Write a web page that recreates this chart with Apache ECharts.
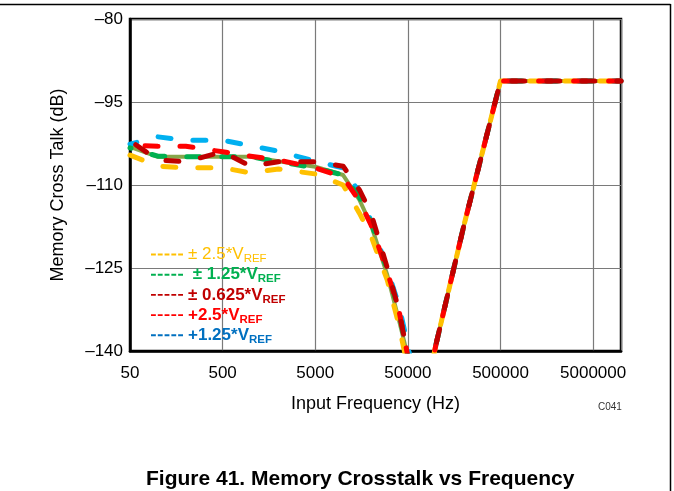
<!DOCTYPE html>
<html>
<head>
<meta charset="utf-8">
<script src="https://cdn.jsdelivr.net/npm/echarts@6/dist/echarts.min.js"></script>
<style>
	html,body{margin:0;padding:0;background:#fff;}
	#chart{width:674px;height:491px;}
</style>
</head>
<body>
<div id="chart"></div>
<script>
//----------------------------
//	data
//----------------------------
var freqHz	= [50, 100, 200, 500, 1000, 2000, 5000, 10000, 15000, 20000, 30000, 40000, 50000, 70000, 100000, 200000, 500000, 1000000, 2000000, 5000000, 10000000];

var pm2p5	= [-104.6, -106.6, -106.9, -106.9, -107.8, -107.1, -108.0, -110.0, -115.1, -119.2, -127.2, -135.3, -143.0, -152, -139, -117.5, -91.2, -91.2, -91.2, -91.2, -91.2];
var pm1p25	= [-103.3, -104.8, -104.9, -104.9, -104.9, -105.8, -106.9, -108.2, -112.2, -116.7, -125.4, -132.9, -141.0, -152, -139, -117.5, -91.2, -91.2, -91.2, -91.2, -91.2];
var pm0p625	= [-102.0, -105.5, -105.8, -104.0, -106.6, -105.8, -105.8, -106.6, -110.9, -115.1, -125.0, -132.6, -141.0, -152, -139, -117.5, -91.2, -91.2, -91.2, -91.2, -91.2];
var p2p5	= [-102.8, -103.0, -103.0, -104.0, -104.8, -105.5, -106.9, -108.6, -112.9, -117.2, -125.7, -132.6, -141.0, -152, -139, -117.5, -91.2, -91.2, -91.2, -91.2, -91.2];
var p1p25	= [-102.6, -101.3, -101.9, -101.9, -102.9, -103.9, -105.7, -106.9, -111.4, -116.5, -125.3, -131.7, -139.0, -152, -139, -117.5, -91.2, -91.2, -91.2, -91.2, -91.2];
var baseLine= [-103.1, -104.9, -104.9, -104.9, -104.9, -105.7, -106.7, -108.2, -112.7, -117.2, -126.3, -134.4, -141.0, -152, -139, -117.5, -91.2, -91.2, -91.2, -91.2, -91.2];

var xTicks	= [50, 500, 5000, 50000, 500000, 5000000];
var yTicks	= [-140, -125, -110, -95, -80];

var F0 = 50;	// x axis starts here, one unit = one decade

function toPts(vals){
	var v = [];
	for(var i=0;i<freqHz.length;i++){
		v.push([Math.log10(freqHz[i]/F0), vals[i]]);
	}
	return v;
}

var FONT = 'Liberation Sans, Arial, sans-serif';

var names	= ['± 2.5*VREF', '± 1.25*VREF', '± 0.625*VREF', '+2.5*VREF', '+1.25*VREF'];
var labels	= {
	'± 2.5*VREF'	: '{y|± 2.5*V}{ys|REF}',
	'± 1.25*VREF'	: '{g| ± 1.25*V}{gs|REF}',
	'± 0.625*VREF'	: '{d|± 0.625*V}{ds|REF}',
	'+2.5*VREF'	: '{r|+2.5*V}{rs|REF}',
	'+1.25*VREF'	: '{b|+1.25*V}{bs|REF}'
};

function sub(c,bold){
	return {color:c, fontSize:11.5, fontWeight:bold?'bold':'normal', fontFamily:FONT, padding:[9,0,0,0]};
}
function main(c,bold){
	return {color:c, fontSize:17, fontWeight:bold?'bold':'normal', fontFamily:FONT};
}

var dashIcon = 'path://M0,0h5v2h-5z M7,0h5v2h-5z M14,0h5v2h-5z M21,0h5v2h-5z M28,0h5v2h-5z';

function mkLine(name, vals, color, offset, dashed){
	return {
		name: name,
		type: 'line',
		data: toPts(vals),
		color: color,
		symbol: 'none',
		smooth: false,
		lineStyle: {
			width: dashed ? 5 : 4,
			color: color,
			type: dashed ? [13, 22] : 'solid',
			dashOffset: offset,
			cap: 'round',
			join: 'round'
		}
	};
}

var myChart = echarts.init(document.getElementById('chart'));

var option = {
	animation: false,
	backgroundColor: '#fff',
	grid: {
		left: 130, right: 53, top: 19, bottom: 140,
		show: true, borderColor: '#000', borderWidth: 2.5
	},
	xAxis: {
		type: 'value',
		min: 0,
		max: Math.log10(1e7/F0),
		interval: 1,
		name: 'Input Frequency (Hz)',
		nameLocation: 'middle',
		nameGap: 44,
		nameTextStyle: {fontSize: 18, color: '#000', fontFamily: FONT},
		axisLine: {lineStyle: {color: '#000', width: 2.5}},
		axisTick: {show: false},
		splitLine: {lineStyle: {color: '#7a7a7a', width: 1.2}},
		axisLabel: {
			fontSize: 17, color: '#000', fontFamily: FONT, margin: 14,
			showMaxLabel: false,
			formatter: function(v){
				var f = Math.round(F0*Math.pow(10,v));
				return xTicks.indexOf(f)>=0 ? String(f) : '';
			}
		}
	},
	yAxis: {
		type: 'value',
		min: yTicks[0],
		max: yTicks[yTicks.length-1],
		interval: 15,
		name: 'Memory Cross Talk (dB)',
		nameLocation: 'middle',
		nameGap: 63,
		nameTextStyle: {fontSize: 18, color: '#000', fontFamily: FONT},
		axisLine: {show: true, lineStyle: {color: '#000', width: 2.5}},
		axisTick: {show: false},
		splitLine: {lineStyle: {color: '#7a7a7a', width: 1.2}},
		axisLabel: {
			fontSize: 17, color: '#000', fontFamily: FONT, margin: 7,
			formatter: function(v){ return v<0 ? '\u2013'+Math.abs(v) : String(v); }
		}
	},
	legend: {
		orient: 'vertical',
		left: 146,
		top: 241,
		itemGap: 1.2,
		itemWidth: 32,
		itemHeight: 3,
		icon: dashIcon,
		selectedMode: false,
		formatter: function(name){ return labels[name]; },
		textStyle: {
			rich: {
				y: main('#ffc000',false), ys: sub('#ffc000',false),
				g: main('#00b050',true),  gs: sub('#00b050',true),
				d: main('#c00000',true),  ds: sub('#c00000',true),
				r: main('#ff0000',true),  rs: sub('#ff0000',true),
				b: main('#0070c0',true),  bs: sub('#0070c0',true)
			}
		},
		data: [
			{name: names[0]},
			{name: names[1]},
			{name: names[2]},
			{name: names[3]},
			{name: names[4], itemStyle: {color: '#0070c0'}}
		]
	},
	graphic: [
		{type: 'line', shape: {x1: 0, y1: 4.5, x2: 670.5, y2: 4.5}, style: {stroke: '#000', lineWidth: 1.5}},
		{type: 'line', shape: {x1: 670.5, y1: 4, x2: 670.5, y2: 491}, style: {stroke: '#000', lineWidth: 1.5}},
		{type: 'text', left: 598, top: 402, style: {text: 'C041', fontSize: 10, fill: '#333', fontFamily: FONT}},
		{type: 'text', left: 146, top: 469, style: {text: 'Figure 41. Memory Crosstalk vs Frequency', fontSize: 21, fontWeight: 'bold', fill: '#000', fontFamily: FONT}}
	],
	series: [
		mkLine('base', baseLine, '#86a64a', 0, false),
		mkLine(names[0], pm2p5, '#ffc000', 0, true),
		mkLine(names[4], p1p25, '#00b0f0', 6, true),
		mkLine(names[1], pm1p25, '#00b050', 12, true),
		mkLine(names[3], p2p5, '#ff0000', 20, true),
		mkLine(names[2], pm0p625, '#c00000', 28, true)
	]
};

myChart.setOption(option);
</script>
</body>
</html>
